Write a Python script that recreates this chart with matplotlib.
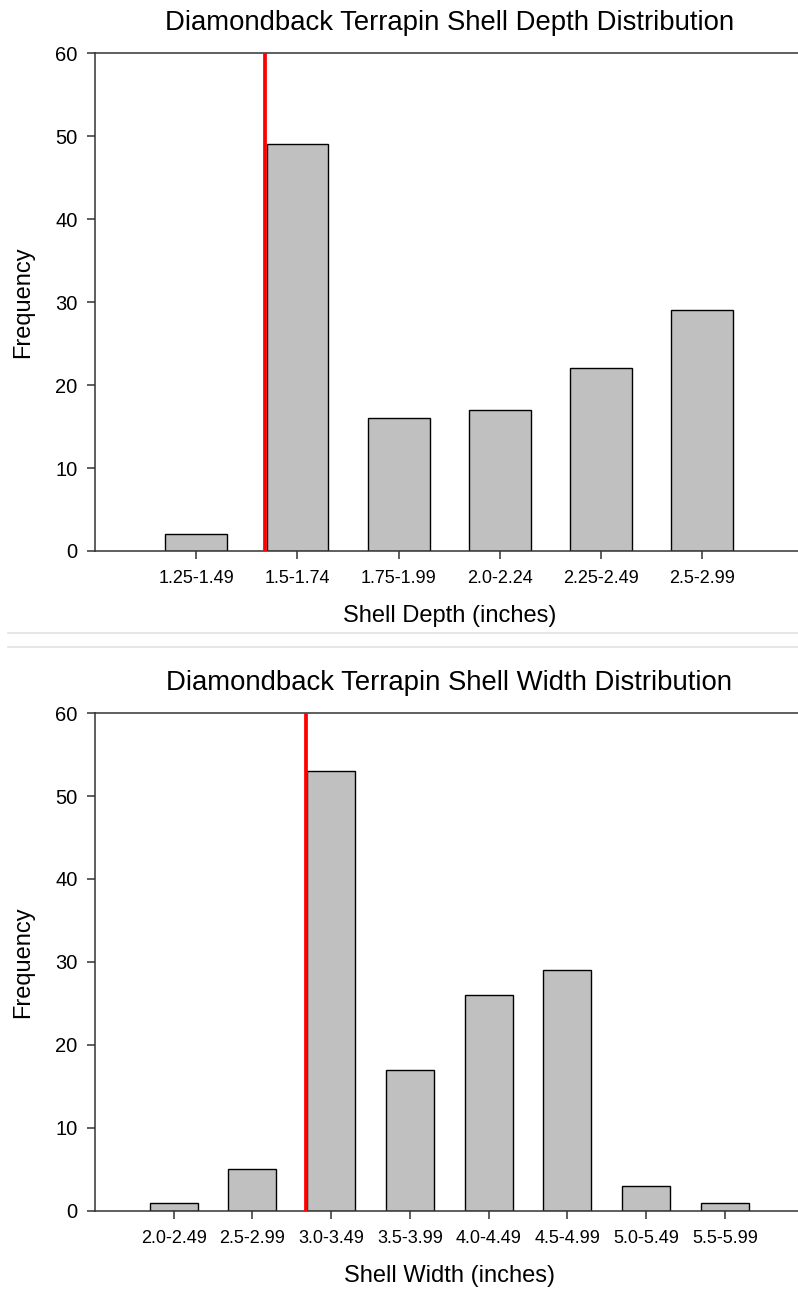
import numpy as np
import matplotlib
matplotlib.use("Agg")
import matplotlib.pyplot as plt
from matplotlib.lines import Line2D

plt.rcParams["font.family"] = ["Liberation Sans", "DejaVu Sans"]

# ── data ──────────────────────────────────────────────────────────────────
depth_bins = ["1.25-1.49", "1.5-1.74", "1.75-1.99", "2.0-2.24", "2.25-2.49", "2.5-2.99"]
depth_freq = [2, 49, 16, 17, 22, 29]
depth_marker = 0.675    # red line position, in category units

width_bins = ["2.0-2.49", "2.5-2.99", "3.0-3.49", "3.5-3.99",
              "4.0-4.49", "4.5-4.99", "5.0-5.49", "5.5-5.99"]
width_freq = [1, 5, 53, 17, 26, 29, 3, 1]
width_marker = 1.675

y_ticks = [0, 10, 20, 30, 40, 50, 60]

AX_COLOR = "#333333"


def _draw_hist(ax, labels, freq, marker, title, xlabel):
    """Bar-style histogram with a red reference line."""
    x = np.arange(len(labels))
    ax.bar(x, freq, width=0.61, color="#c0c0c0", edgecolor="black",
           linewidth=1.0, zorder=2)
    ax.axvline(marker, color="#ff0000", linewidth=2.7, zorder=3)

    ax.set_xlim(-1, len(labels))
    ax.set_ylim(0, 60)
    ax.set_xticks(x)
    ax.set_xticklabels(labels, fontsize=13)
    ax.set_yticks(y_ticks)
    ax.tick_params(axis="y", labelsize=14.5, length=5.5, width=1.1,
                   color=AX_COLOR, pad=7)
    ax.tick_params(axis="x", length=5.5, width=1.1, color=AX_COLOR, pad=8)

    for side in ["left", "top", "bottom"]:
        ax.spines[side].set_color(AX_COLOR)
        ax.spines[side].set_linewidth(1.1)
    ax.spines["right"].set_visible(False)

    ax.set_title(title, fontsize=19.8, pad=16.5)
    ax.set_xlabel(xlabel, fontsize=17)
    ax.set_ylabel("Frequency", fontsize=17)
    ax.xaxis.set_label_coords(0.5, -0.108)
    ax.yaxis.set_label_coords(-0.086, 0.5)


fig = plt.figure(figsize=(7.98, 12.91), dpi=100)

ax_top = fig.add_axes([0.119, 0.5732, 0.888, 0.3857])
ax_bot = fig.add_axes([0.119, 0.0620, 0.888, 0.3857])

_draw_hist(ax_top, depth_bins, depth_freq, depth_marker,
           "Diamondback Terrapin Shell Depth Distribution", "Shell Depth (inches)")
_draw_hist(ax_bot, width_bins, width_freq, width_marker,
           "Diamondback Terrapin Shell Width Distribution", "Shell Width (inches)")

# thin separator lines between the two panels
for yy in [1 - 633 / 1291, 1 - 647 / 1291]:
    fig.add_artist(Line2D([0.01, 1.0], [yy, yy], transform=fig.transFigure,
                          color="#e2e2e2", linewidth=1.2))

fig.savefig("out.png", dpi=100)
